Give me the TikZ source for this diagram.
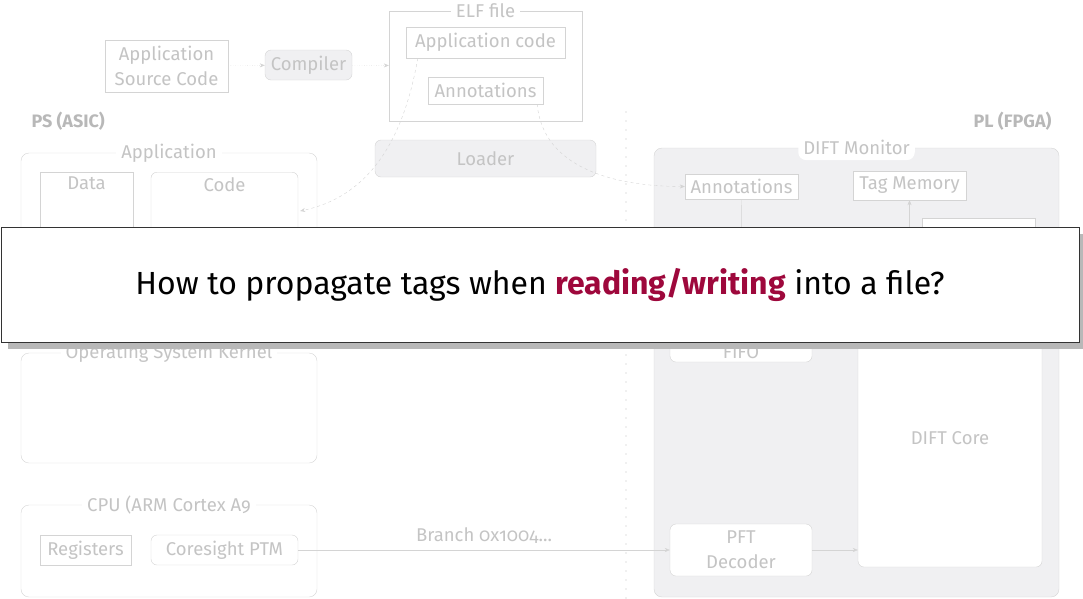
\documentclass[tikz,border=0pt]{standalone}
\usepackage{fontspec}
\setmainfont{Fira Sans}[Numbers=OldStyle]
\usepackage{xcolor}
\usepackage{tikz}
\usetikzlibrary{arrows.meta, positioning, calc, shadows}
\definecolor{fadeline}{RGB}{212, 212, 212}
\definecolor{fadetext}{RGB}{196, 196, 196}
\definecolor{fadefill}{RGB}{240, 240, 242}
\definecolor{askred}{RGB}{158, 8, 60}

\begin{document}
\begin{tikzpicture}[
    x=1pt, y=-1pt,
    font=\fontsize{18.5}{25}\selectfont,
    block/.style={rectangle, draw=fadeline, fill=white, text=fadetext,
                  align=center, inner sep=2pt},
    rblock/.style={block, rounded corners=6pt},
    gblock/.style={rblock, fill=fadefill},
    group/.style={rectangle, rounded corners=8pt, draw=fadeline},
    ttl/.style={fill=white, text=fadetext, inner sep=5pt, anchor=center},
    toplbl/.style={text=fadetext, anchor=north, inner sep=5pt},
    hdr/.style={text=black!28, font=\fontsize{18}{20}\selectfont\bfseries},
    arr/.style={-{Stealth[length=5pt, width=4pt]}, fadeline},
    dotarr/.style={arr, dotted},
    dasharr/.style={arr, dashed},
    sep/.style={black!25, line cap=round, dash pattern=on 0pt off 9pt, line width=1.3pt}
]
\useasboundingbox (0,0) rectangle (1083,598);

% tool chain
\node[block, minimum width=123pt, minimum height=52pt]  (src)     at (166.5,66)  {Application\\Source Code};
\node[gblock, minimum width=87pt, minimum height=30pt]  (cc)      at (308.5,65)  {Compiler};
\node[block, minimum width=193pt, minimum height=110pt] (elf)     at (485.5,66)  {};
\node[ttl] (elftitle) at (elf.north) {ELF file};
\node[block, minimum width=159pt, minimum height=31pt]  (appcode) at (485.5,42.5) {Application code};
\node[block, minimum width=115pt, minimum height=27pt]  (elfann)  at (485.5,90.5) {Annotations};
\node[gblock, minimum width=221pt, minimum height=37pt] (loader)  at (485.5,158.5) {Loader};

\draw[dotarr] (src) -- (cc);
\draw[dotarr] (cc)  -- (elf);

% PS / PL split
\node[hdr, anchor=west] (ps) at (28,121)   {PS (ASIC)};
\node[hdr, anchor=east] (pl) at (1055,121) {PL (FPGA)};
\coordinate (septop) at (626,112);
\coordinate (sepbot) at (626,598);
\draw[sep] (septop) -- (sepbot);

% PS (ASIC)
\node[group, minimum width=296pt, minimum height=180pt] (app) at (169,243) {};
\node[ttl] (apptitle) at (app.north) {Application};
\node[block, minimum width=93pt, minimum height=140pt, anchor=north,
      label={[toplbl]north:Data}] (data) at (86.5,172) {};
\node[rblock, minimum width=147pt, minimum height=140pt, anchor=north,
      label={[toplbl]north:Code}] (code) at (224.5,172) {};

\node[group, minimum width=296pt, minimum height=110pt] (os) at (169,408) {};
\node[ttl] (ostitle) at (os.north) {Operating System Kernel};

\node[group, minimum width=296pt, minimum height=92pt] (cpu) at (169,551) {};
\node[ttl] (cputitle) at (cpu.north) {CPU (ARM Cortex A9};
\node[block, minimum width=91pt, minimum height=30pt]   (regs) at (85.5,550)  {Registers};
\node[rblock, minimum width=147pt, minimum height=30pt] (ptm)  at (224.5,550) {Coresight PTM};

% PL (FPGA)
\node[group, fill=fadefill, minimum width=405pt, minimum height=449pt] (mon) at (856.5,372.5) {};
\node[ttl, rounded corners=8pt] (montitle) at (mon.north) {DIFT Monitor};
\node[block, minimum width=113pt, minimum height=25pt] (dann)   at (741.5,186.5) {Annotations};
\node[block, minimum width=113pt, minimum height=29pt] (tagmem) at (909.5,185.5) {Tag Memory};
\node[rblock, minimum width=142pt, minimum height=52pt,
      label={[text=fadetext, anchor=south, inner sep=3pt]south:FIFO}] (fifo) at (741,336) {};
\node[rblock, minimum width=142pt, minimum height=52pt] (pft)  at (741,550) {PFT\\Decoder};
\node[rblock, minimum width=184pt, minimum height=258pt] (core) at (950,438) {DIFT Core};
\node[block, minimum width=113pt, minimum height=82pt]  (tagunit) at (978.5,259) {};

% connectors
\draw[dasharr] ($(appcode.south west)+(12,0)$) to[out=-100, in=12] ($(code.north east)+(2,39)$);
\draw[dasharr] ($(elfann.south east)+(-6,0)$) to[out=-85, in=180] (dann.west);
\draw[fadeline] (dann) -- (fifo);
\draw[arr] (core.north -| tagmem.south) -- (tagmem.south);
\draw[arr] (ptm) -- node[above, text=fadetext, inner sep=6pt]{Branch 0x1004...} (pft);
\draw[arr] (pft.east) -- (pft.east -| core.west);

% question overlay
\node[draw=black!80, fill=white, minimum width=1078pt, minimum height=115pt,
      drop shadow={shadow xshift=7pt, shadow yshift=-7pt, fill=black!28, opacity=1},
      font=\fontsize{32}{38}\selectfont] (question) at (540,284.5)
      {How to propagate tags when \textbf{\color{askred}reading/writing} into a file?};

\end{tikzpicture}
\end{document}
